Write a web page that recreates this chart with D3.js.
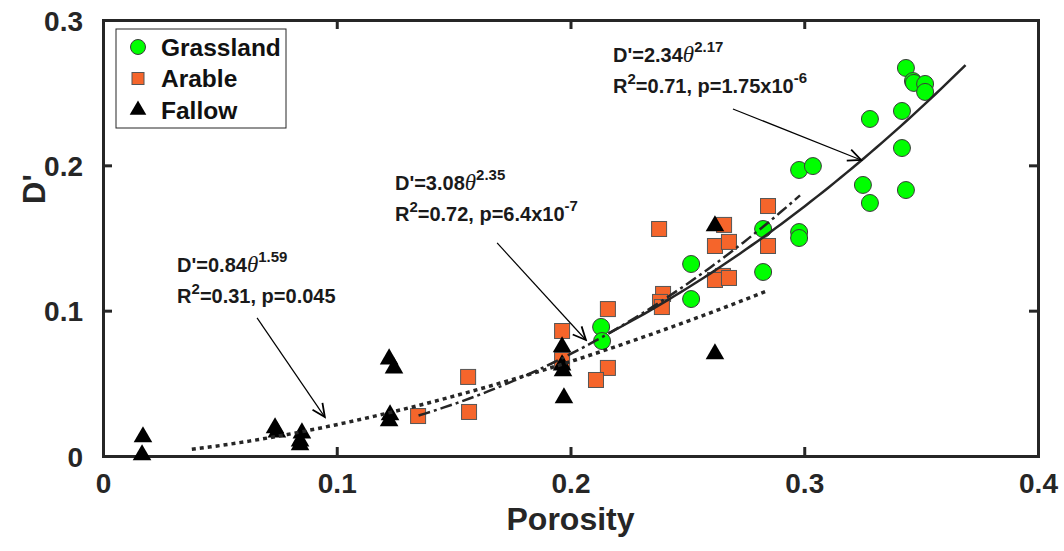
<!DOCTYPE html>
<html>

<head>
  <meta charset="utf-8">
  <script src="https://d3js.org/d3.v7.min.js"></script>
  <style>
    body {
      margin: 0;
      background: #fff;
      font-family: "Liberation Sans", Arial, sans-serif;
    }

    .tick text {
      font-weight: bold;
    }
  </style>
</head>

<body>
  <div id="chart"></div>
  <script>
    // porosity / D'
    var grassX = [0.2131, 0.2135, 0.2516, 0.2516, 0.2824, 0.2824, 0.2978, 0.3037, 0.2978, 0.2978, 0.3251,
      0.3281, 0.3281, 0.3418, 0.3418, 0.3435, 0.3435, 0.3465, 0.3469, 0.3517, 0.3517];
    var grassY = [0.0888, 0.0791, 0.1321, 0.1080, 0.1562, 0.1266, 0.1968, 0.1995, 0.1541, 0.1500, 0.1865,
      0.1741, 0.2319, 0.2374, 0.2119, 0.1830, 0.2670, 0.2580, 0.2567, 0.2560, 0.2505];

    var arableX = [0.1348, 0.1562, 0.1566, 0.1964, 0.1964, 0.2160, 0.2160, 0.2109, 0.2379, 0.2396, 0.2383,
      0.2391, 0.2657, 0.2618, 0.2678, 0.2652, 0.2618, 0.2678, 0.2845, 0.2845];
    var arableY = [0.0275, 0.0544, 0.0303, 0.0860, 0.0661, 0.1011, 0.0606, 0.0523, 0.1562, 0.1115, 0.1060,
      0.1025, 0.1590, 0.1445, 0.1473, 0.1239, 0.1211, 0.1225, 0.1720, 0.1445];

    var fallowX = [0.0171, 0.0167, 0.0736, 0.0744, 0.0851, 0.0843, 0.0843, 0.1224, 0.1245, 0.1228, 0.1224,
      0.1964, 0.1964, 0.1968, 0.1972, 0.2618, 0.2618];
    var fallowY = [0.0138, 0.0014, 0.0200, 0.0172, 0.0165, 0.0110, 0.0083, 0.0674, 0.0612, 0.0289, 0.0248,
      0.0757, 0.0633, 0.0592, 0.0406, 0.1590, 0.0709];

    // power-law fits D' = a * theta^b, drawn over [from, to]
    var fitNames = ["grass", "arable", "fallow"];
    var fitA = [2.34, 3.08, 0.84];
    var fitB = [2.17, 2.35, 1.59];
    var fitFrom = [0.2165, 0.135, 0.038];
    var fitTo = [0.369, 0.2982, 0.2836];
    var fitR2 = ["0.71", "0.72", "0.31"];
    var fitP = [["1.75x10", "-6"], ["6.4x10", "-7"], ["0.045", null]];
    // label anchor and arrow (start, end) in data units
    var labelPos = [[0.2182, 0.2711], [0.1249, 0.1830], [0.0317, 0.1266]];
    var arrowFrom = [[0.2695, 0.2388], [0.1686, 0.1466], [0.0659, 0.0950]];
    var arrowTo = [[0.3243, 0.2037], [0.2066, 0.0798], [0.0949, 0.0268]];

    var xTicks = [0, 0.1, 0.2, 0.3, 0.4];
    var yTicks = [0, 0.1, 0.2, 0.3];
    var legendNames = ["Grassland", "Arable", "Fallow"];

    var width = 1064, height = 551;
    var margin = { top: 20, right: 26, bottom: 95, left: 103 };

    var svg = d3.select("#chart").append("svg")
      .attr("width", width)
      .attr("height", height);

    var x = d3.scaleLinear().domain([0, 0.4]).range([margin.left, width - margin.right]);
    var y = d3.scaleLinear().domain([0, 0.3]).range([height - margin.bottom, margin.top]);

    var axisColor = "#262626";

    // axes + box
    var xAxis = svg.append("g")
      .attr("transform", "translate(0," + y(0) + ")")
      .call(d3.axisBottom(x).tickValues(xTicks).tickSize(-9).tickPadding(20)
        .tickFormat(d => d === 0 ? "0" : d3.format(".1f")(d)));
    var xTop = svg.append("g")
      .attr("transform", "translate(0," + y(0.3) + ")")
      .call(d3.axisTop(x).tickValues(xTicks).tickSize(-9).tickFormat(""));
    var yAxis = svg.append("g")
      .attr("transform", "translate(" + x(0) + ",0)")
      .call(d3.axisLeft(y).tickValues(yTicks).tickSize(-9).tickPadding(20)
        .tickFormat(d => d === 0 ? "0" : d3.format(".1f")(d)));
    var yRight = svg.append("g")
      .attr("transform", "translate(" + x(0.4) + ",0)")
      .call(d3.axisRight(y).tickValues(yTicks).tickSize(-9).tickFormat(""));

    [xAxis, xTop, yAxis, yRight].forEach(g => {
      g.select(".domain").attr("stroke", axisColor).attr("stroke-width", 3);
      g.selectAll(".tick line").attr("stroke", axisColor).attr("stroke-width", 3);
      g.selectAll(".tick text").attr("fill", axisColor)
        .attr("font-size", 28)
        .attr("font-family", "'Liberation Sans', Arial, sans-serif");
    });
    xAxis.selectAll(".tick text").attr("dy", "0.62em");
    yAxis.selectAll(".tick text").attr("dy", "0.36em");

    svg.append("text")
      .attr("x", (x(0) + x(0.4)) / 2)
      .attr("y", 530)
      .attr("text-anchor", "middle")
      .attr("font-size", 32)
      .attr("font-weight", "bold")
      .attr("fill", axisColor)
      .text("Porosity");

    svg.append("text")
      .attr("transform", "translate(45,189) rotate(-90)")
      .attr("text-anchor", "middle")
      .attr("font-size", 31)
      .attr("font-weight", "bold")
      .attr("fill", axisColor)
      .text("D'");

    // markers
    var greenFill = "#00ff00", orangeFill = "#f5652b";
    var triangle = d3.symbol().type(d3.symbolTriangle).size(150);

    svg.append("g").selectAll("circle")
      .data(grassX.map((v, i) => [v, grassY[i]]))
      .join("circle")
      .attr("cx", d => x(d[0]))
      .attr("cy", d => y(d[1]))
      .attr("r", 8.5)
      .attr("fill", greenFill)
      .attr("stroke", "#3a3a3a")
      .attr("stroke-width", 1);

    svg.append("g").selectAll("rect")
      .data(arableX.map((v, i) => [v, arableY[i]]))
      .join("rect")
      .attr("x", d => x(d[0]) - 7.5)
      .attr("y", d => y(d[1]) - 7.5)
      .attr("width", 15)
      .attr("height", 15)
      .attr("fill", orangeFill)
      .attr("stroke", "#555")
      .attr("stroke-width", 1);

    svg.append("g").selectAll("path")
      .data(fallowX.map((v, i) => [v, fallowY[i]]))
      .join("path")
      .attr("d", triangle)
      .attr("transform", d => "translate(" + x(d[0]) + "," + (y(d[1]) + 1) + ")")
      .attr("fill", "#000");

    // fit curves
    var line = d3.line().x(d => x(d[0])).y(d => y(d[1]));
    var dashes = [null, "12,4,3,4", "4,4"];
    var widths = [2.5, 2.5, 3.5];

    fitNames.forEach((n, i) => {
      var pts = d3.range(0, 61).map(k => {
        var t = fitFrom[i] + (fitTo[i] - fitFrom[i]) * k / 60;
        return [t, fitA[i] * Math.pow(t, fitB[i])];
      });
      svg.append("path")
        .datum(pts)
        .attr("d", line)
        .attr("fill", "none")
        .attr("stroke", "#262626")
        .attr("stroke-width", widths[i])
        .attr("stroke-dasharray", dashes[i]);
    });

    // arrows + equations
    svg.append("defs").append("marker")
      .attr("id", "arrowhead")
      .attr("viewBox", "-14 -8 16 16")
      .attr("refX", 0)
      .attr("refY", 0)
      .attr("markerWidth", 16)
      .attr("markerHeight", 16)
      .attr("markerUnits", "userSpaceOnUse")
      .attr("orient", "auto")
      .append("path")
      .attr("d", "M-13,-6L0,0L-13,6")
      .attr("fill", "none")
      .attr("stroke", "#000")
      .attr("stroke-width", 1.8);

    fitNames.forEach((n, i) => {
      svg.append("line")
        .attr("x1", x(arrowFrom[i][0]))
        .attr("y1", y(arrowFrom[i][1]))
        .attr("x2", x(arrowTo[i][0]))
        .attr("y2", y(arrowTo[i][1]))
        .attr("stroke", "#000")
        .attr("stroke-width", 1.2)
        .attr("marker-end", "url(#arrowhead)");

      var lx = x(labelPos[i][0]), ly = y(labelPos[i][1]);
      var t1 = svg.append("text")
        .attr("x", lx).attr("y", ly)
        .attr("font-size", 20).attr("font-weight", "bold").attr("fill", "#1a1a1a");
      t1.append("tspan").text("D'=" + fitA[i].toFixed(2));
      t1.append("tspan")
        .attr("font-family", "'Liberation Serif', 'Times New Roman', serif")
        .attr("font-style", "italic").attr("font-weight", "normal")
        .attr("font-size", 23)
        .text("\u03b8");
      t1.append("tspan").attr("dy", -10).attr("font-size", 15).text(fitB[i].toFixed(2));

      var t2 = svg.append("text")
        .attr("x", lx).attr("y", ly + 31)
        .attr("font-size", 20).attr("font-weight", "bold").attr("fill", "#1a1a1a");
      t2.append("tspan").text("R");
      t2.append("tspan").attr("dy", -9).attr("font-size", 15).text("2");
      t2.append("tspan").attr("dy", 9).text("=" + fitR2[i] + ", p=" + fitP[i][0]);
      if (fitP[i][1]) {
        t2.append("tspan").attr("dy", -10).attr("font-size", 15).text(fitP[i][1]);
      }
    });

    // legend
    var legend = svg.append("g").attr("transform", "translate(116,29)");
    legend.append("rect")
      .attr("width", 170).attr("height", 99)
      .attr("fill", "#fff").attr("stroke", "#262626").attr("stroke-width", 1);

    var rowY = d3.scalePoint().domain(legendNames).range([18, 81]);
    legendNames.forEach(name => {
      var g = legend.append("g").attr("transform", "translate(22," + rowY(name) + ")");
      if (name === "Grassland") {
        g.append("circle").attr("r", 7.5).attr("fill", greenFill).attr("stroke", "#3a3a3a");
      } else if (name === "Arable") {
        g.append("rect").attr("x", -6).attr("y", -6).attr("width", 12).attr("height", 12)
          .attr("fill", orangeFill).attr("stroke", "#555");
      } else {
        g.append("path").attr("d", d3.symbol().type(d3.symbolTriangle).size(120)).attr("fill", "#000");
      }
      g.append("text")
        .attr("x", 23).attr("dy", "0.35em")
        .attr("font-size", 24.5).attr("font-weight", "bold").attr("fill", "#111")
        .text(name);
    });
  </script>
</body>

</html>
